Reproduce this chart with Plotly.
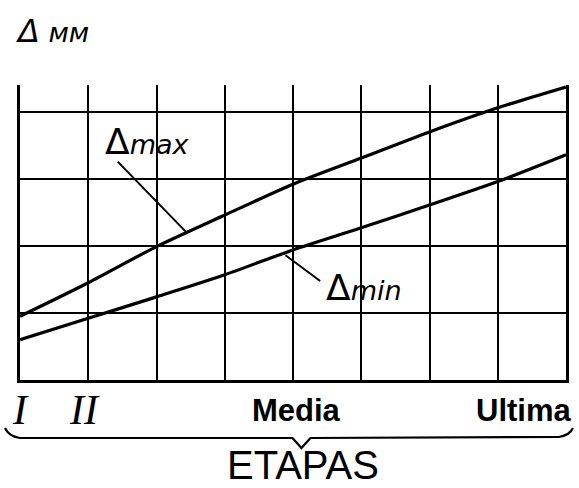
import plotly.graph_objects as go

# Stage positions along the horizontal scale (grid units)
stages = [0, 1, 2, 3, 4, 5, 6, 7, 8]
# Allowance values in grid units
delta_max = [0.95, 1.45, 1.99, 2.46, 2.92, 3.31, 3.70, 4.06, 4.37]
delta_min = [0.60, 0.92, 1.24, 1.57, 1.94, 2.27, 2.61, 2.96, 3.36]

# Stage labels under the axis
stage_labels = ["I", "II", "Media", "Ultima"]
stage_label_pos = [0.0, 0.95, 4.05, 8.0]

W, H = 579, 488
ML, MR, MT, MB = 20, 10, 85, 108
X_RANGE = [0, 8]
Y_RANGE = [0, 4.4]

def px_to_paper(px, py):
    pw = W - ML - MR
    ph = H - MT - MB
    return (px - ML) / pw, (H - MB - py) / ph

fig = go.Figure()
fig.add_trace(go.Scatter(x=stages, y=delta_max, mode="lines",
                         line=dict(color="black", width=3.2, shape="spline", smoothing=0.8),
                         hoverinfo="skip"))
fig.add_trace(go.Scatter(x=stages, y=delta_min, mode="lines",
                         line=dict(color="black", width=3.2, shape="spline", smoothing=0.8),
                         hoverinfo="skip"))

def delta_label(sub):
    return ('<span style="font-size:36px">Δ</span>'
            '<span style="font-size:27px"><i>' + sub + '</i></span>')

annotations = []
# Curve labels with leader lines
annotations.append(dict(x=2.45, y=2.19, xref="x", yref="y", ax=1.41, ay=3.28,
                        axref="x", ayref="y", text="", showarrow=True,
                        arrowhead=0, arrowwidth=2, arrowcolor="black"))
annotations.append(dict(x=1.22, y=3.22, xref="x", yref="y", text=delta_label("max"),
                        showarrow=False, font=dict(family="DejaVu Sans", size=27, color="black"),
                        xanchor="left", yanchor="bottom"))
annotations.append(dict(x=3.89, y=1.86, xref="x", yref="y", ax=4.42, ay=1.46,
                        axref="x", ayref="y", text="", showarrow=True,
                        arrowhead=0, arrowwidth=2, arrowcolor="black"))
annotations.append(dict(x=4.45, y=1.38, xref="x", yref="y", text=delta_label("min"),
                        showarrow=False, font=dict(family="DejaVu Sans", size=27, color="black"),
                        xanchor="left", yanchor="middle"))

# Stage labels
_, label_y = px_to_paper(0, 410)
for lab, pos in zip(stage_labels, stage_label_pos):
    shift = 0
    if lab in ("I", "II"):
        font = dict(family="Liberation Serif", size=42, color="black")
        txt = "<i>" + lab + "</i>"
        anchor = "center"
    else:
        font = dict(family="Liberation Sans", size=31, color="black")
        txt = "<b>" + lab + "</b>"
        anchor = "right" if lab == "Ultima" else "center"
        if lab == "Ultima":
            shift = 8
    annotations.append(dict(x=pos, y=label_y, xref="x", yref="paper", text=txt,
                            showarrow=False, font=font, xanchor=anchor, yanchor="middle",
                            xshift=shift))

# Axis titles
tx, ty = px_to_paper(13, 31)
annotations.append(dict(x=tx, y=ty, xref="paper", yref="paper",
                        text='<i><span style="font-size:32px">Δ</span> мм</i>',
                        showarrow=False, xanchor="left", yanchor="middle",
                        font=dict(family="DejaVu Sans", size=27, color="black")))
ex, ey = px_to_paper(305, 465)
annotations.append(dict(x=ex, y=ey, xref="paper", yref="paper", text="ETAPAS",
                        showarrow=False, xanchor="center", yanchor="middle",
                        font=dict(family="Liberation Sans", size=40, color="black")))

# Curly brace grouping the stages
pts = [(5, 428), (8, 436), (20, 438), (294, 438), (303, 448), (312, 438),
       (562, 437), (573, 435), (576, 428)]
pp = [px_to_paper(a, b) for a, b in pts]
path = "M {0},{1} Q {2},{3} {4},{5} L {6},{7} L {8},{9} L {10},{11} L {12},{13} Q {14},{15} {16},{17}".format(
    *[v for p in pp for v in p])
shapes = [dict(type="path", xref="paper", yref="paper", path=path,
               line=dict(color="black", width=2.2))]

fig.update_layout(
    width=W, height=H,
    margin=dict(l=ML, r=MR, t=MT, b=MB),
    paper_bgcolor="white", plot_bgcolor="white",
    showlegend=False,
    annotations=annotations,
    shapes=shapes,
    xaxis=dict(range=X_RANGE, dtick=1, tick0=0, showticklabels=False, ticks="",
               showgrid=True, gridcolor="black", gridwidth=2.4,
               showline=True, linecolor="black", linewidth=3, mirror=False,
               zeroline=False, fixedrange=True),
    yaxis=dict(range=Y_RANGE, dtick=1, tick0=0, showticklabels=False, ticks="",
               showgrid=True, gridcolor="black", gridwidth=2.4,
               showline=True, linecolor="black", linewidth=2.6, mirror=True,
               zeroline=False, fixedrange=True),
)

fig.write_html("out.html")
